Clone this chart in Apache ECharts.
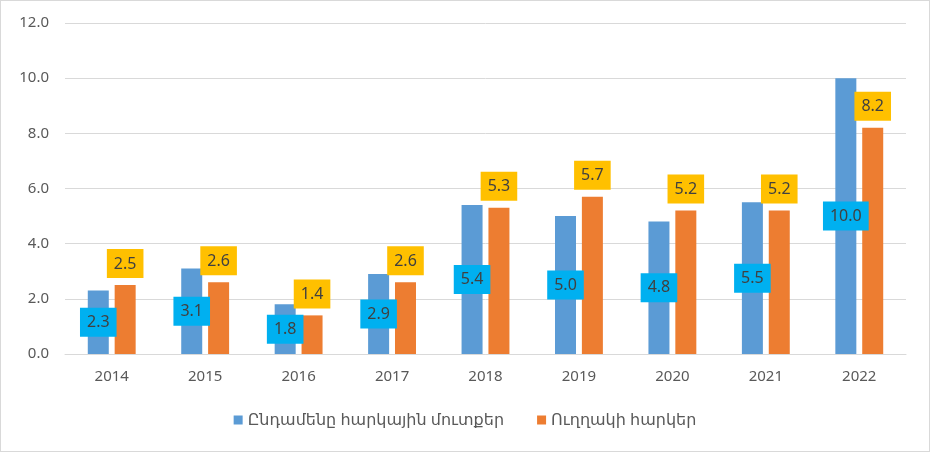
<!DOCTYPE html>
<html><head><meta charset="utf-8">
<script src="https://cdn.jsdelivr.net/npm/echarts@6/dist/echarts.min.js"></script>
<style>html,body{margin:0;padding:0;background:#fff}#c{width:930px;height:452px;box-sizing:border-box;border:1px solid #d9d9d9}</style>
</head><body><div id="c"></div>
<script>
const categories = ['2014','2015','2016','2017','2018','2019','2020','2021','2022'];
const totalRevenue = [2.3,3.1,1.8,2.9,5.4,5.0,4.8,5.5,10.0];
const directTaxes = [2.5,2.6,1.4,2.6,5.3,5.7,5.2,5.2,8.2];
const seriesNames = ['Ընդամենը հարկային մուտքեր','Ուղղակի հարկեր'];
const font = "'Noto Sans','DejaVu Sans',sans-serif";
const chart = echarts.init(document.getElementById('c'));
chart.setOption({
  animation:false,
  textStyle:{fontFamily:font},
  grid:{left:64,right:23,top:22,bottom:97},
  legend:{bottom:18,itemWidth:9,itemHeight:9,itemGap:33,icon:'rect',
    textStyle:{color:'#595959',fontSize:16,fontFamily:font},
    data:seriesNames},
  xAxis:{type:'category',data:categories,
    axisLine:{lineStyle:{color:'#d9d9d9'}},axisTick:{show:false},
    axisLabel:{color:'#595959',fontSize:15,margin:15}},
  yAxis:{type:'value',min:0,max:12,interval:2,
    axisLabel:{color:'#595959',fontSize:15,margin:16,formatter:v=>v.toFixed(1)},
    splitLine:{lineStyle:{color:'#d9d9d9'}}},
  series:[
    {name:seriesNames[0],type:'bar',data:totalRevenue,barWidth:21,barGap:'28%',
     itemStyle:{color:'#5B9BD5'},
     label:{show:true,position:'inside',backgroundColor:'#00B0F0',color:'#404040',
       fontSize:16,padding:[7,7,6,7],formatter:p=>p.value.toFixed(1)}},
    {name:seriesNames[1],type:'bar',data:directTaxes,barWidth:21,
     itemStyle:{color:'#ED7D31'},
     label:{show:true,position:'top',distance:7,backgroundColor:'#FFC000',color:'#404040',
       fontSize:16,padding:[7,7,6,7],formatter:p=>p.value.toFixed(1)}}
  ]
});
</script></body></html>
